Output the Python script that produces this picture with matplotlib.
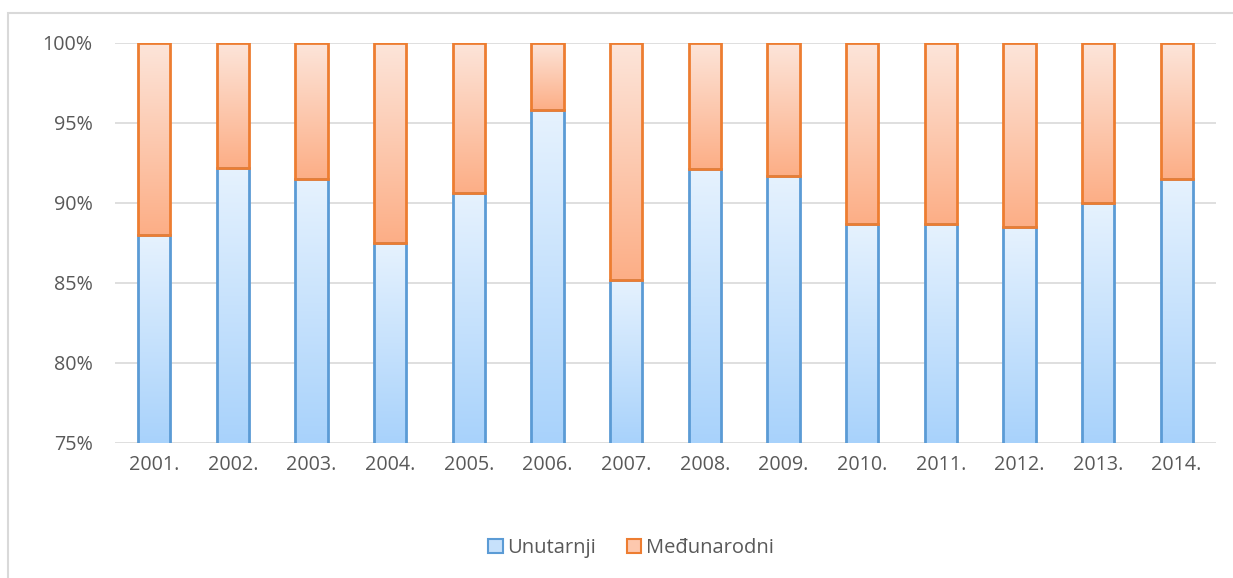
import matplotlib.pyplot as plt
import numpy as np
from matplotlib.colors import LinearSegmentedColormap
from matplotlib.patches import Rectangle, Patch

godine = ['2001.', '2002.', '2003.', '2004.', '2005.', '2006.', '2007.',
          '2008.', '2009.', '2010.', '2011.', '2012.', '2013.', '2014.']
unutarnji = [88.0, 92.2, 91.5, 87.5, 90.6, 95.8, 85.2,
             92.1, 91.7, 88.7, 88.7, 88.5, 90.0, 91.5]
medunarodni = [100 - u for u in unutarnji]
yticks = [75, 80, 85, 90, 95, 100]

plt.rcParams['font.family'] = ['Open Sans', 'DejaVu Sans']
siva = '#595959'

fig = plt.figure(figsize=(12.33, 5.78), dpi=100)
ax = fig.add_axes([115/1233, 1 - 443/578, (1216-115)/1233, (443-43)/578])

# okvir oko grafikona
fig.patches.append(Rectangle((8/1233, -0.05), 1.2, 1 - 13/578 + 0.05, transform=fig.transFigure,
                             fill=False, edgecolor='#d9d9d9', lw=1.5))

plavi_cm = LinearSegmentedColormap.from_list('p', ['#a8d2fb', '#e6f2fe'])
nar_cm = LinearSegmentedColormap.from_list('n', ['#fcae86', '#fde5da'])
grad = np.linspace(0, 1, 256).reshape(-1, 1)

x = np.arange(len(godine))
w = 0.41
b1 = ax.bar(x, unutarnji, w, bottom=0, color='none', edgecolor='#5b9bd5', lw=2, zorder=3)
b2 = ax.bar(x, medunarodni, w, bottom=unutarnji, color='none', edgecolor='#ed7d31', lw=2, zorder=3)

for bars, cm in ((b1, plavi_cm), (b2, nar_cm)):
    for r in bars:
        x0 = r.get_x()
        y0 = max(r.get_y(), 75)
        y1 = r.get_y() + r.get_height()
        # sjena
        ax.add_patch(Rectangle((x0 + 0.012, y0 - 0.08), r.get_width(), y1 - y0,
                               facecolor='#000000', alpha=0.08, edgecolor='none', zorder=1.5))
        im = ax.imshow(grad, cmap=cm, aspect='auto', origin='lower',
                       extent=(x0, x0 + r.get_width(), y0, y1), zorder=2)
        im.set_clip_path(r)

ax.set_xlim(-0.5, len(godine) - 0.5)
ax.set_ylim(75, 100)
ax.set_yticks(yticks)
ax.set_yticklabels([f'{t}%' for t in yticks])
ax.set_xticks(x)
ax.set_xticklabels(godine)
ax.tick_params(length=0, labelsize=14.2, colors=siva)
ax.tick_params(axis='y', pad=16)
ax.tick_params(axis='x', pad=9)
ax.grid(axis='y', color='#d9d9d9', lw=1.2, zorder=0)
ax.set_axisbelow(True)
for s in ax.spines.values():
    s.set_visible(False)

handles = [Patch(facecolor='#c7e1fb', edgecolor='#5b9bd5', lw=1.5, label='Unutarnji'),
           Patch(facecolor='#fdc8ae', edgecolor='#ed7d31', lw=1.5, label='Međunarodni')]
leg = fig.legend(handles=handles, loc='center', bbox_to_anchor=(631/1233, 1 - 548/578), ncol=2,
                 frameon=False, fontsize=14.5, handlelength=0.7, handleheight=0.7,
                 handletextpad=0.25, columnspacing=1.5)
for t in leg.get_texts():
    t.set_color(siva)

fig.savefig('out.png', dpi=100)
